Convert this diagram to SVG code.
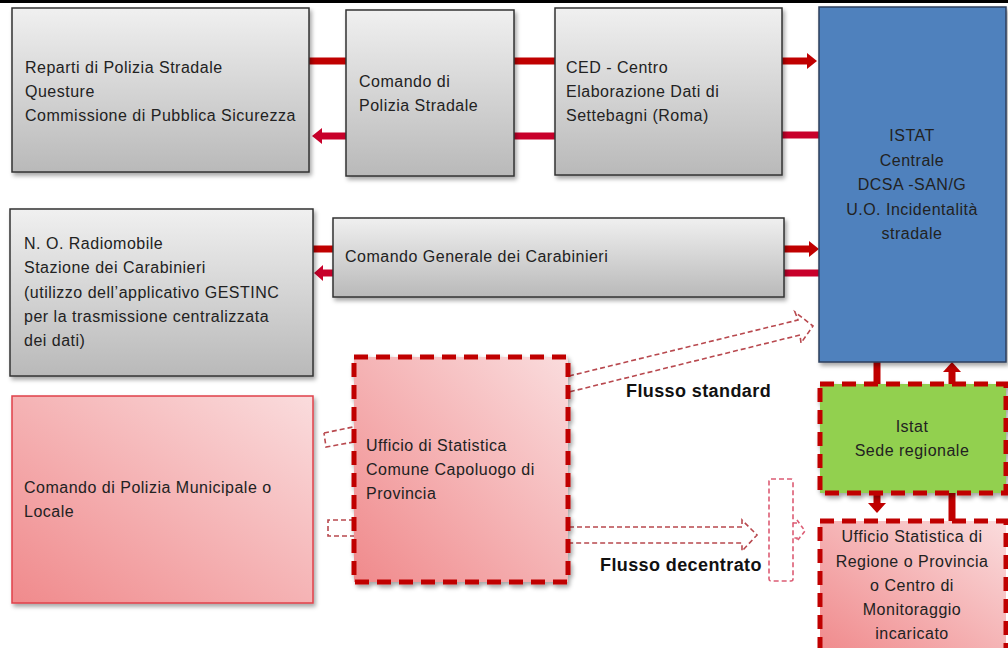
<svg xmlns="http://www.w3.org/2000/svg" width="1008" height="648" viewBox="0 0 1008 648">
<style>
.t{font-family:"Liberation Sans",Arial,sans-serif;font-size:16px;letter-spacing:0.5px;fill:#222}
.c{text-anchor:middle}
.b{font-family:"Liberation Sans",Arial,sans-serif;font-size:18px;font-weight:bold;letter-spacing:0.4px;fill:#111}
.gray{fill:url(#gGray);stroke:#333;stroke-width:1.5;filter:url(#sh)}
.pinkd{fill:url(#gPink);stroke:#C00000;stroke-width:5;stroke-dasharray:14 8}
.bar1{stroke:#C00000;stroke-width:7;fill:none}
.bar2{stroke:#C8002A;stroke-width:7;fill:none}
.h1{fill:#C00000}
.h2{fill:#C8002A}
.blk{fill:none;stroke:#B8484E;stroke-width:1.6;stroke-dasharray:5 3}
</style>
<defs>
<linearGradient id="gGray" x1="0" y1="0" x2="0" y2="1">
<stop offset="0" stop-color="#F0F0F0"/>
<stop offset="1" stop-color="#B9B9B9"/>
</linearGradient>
<linearGradient id="gPink" x1="1" y1="0" x2="0" y2="1">
<stop offset="0" stop-color="#FADCDD"/>
<stop offset="1" stop-color="#F08A8C"/>
</linearGradient>
<filter id="sh" x="-10%" y="-10%" width="130%" height="130%">
<feDropShadow dx="2" dy="3" stdDeviation="2" flood-color="#000" flood-opacity="0.35"/>
</filter>
</defs>
<rect x="0" y="0" width="1008" height="648" fill="#fff"/>
<rect x="0" y="0" width="1008" height="3" fill="#000"/>

<g id="connectors">
<line class="bar1" x1="309" y1="61" x2="346" y2="61"/>
<line class="bar2" x1="346" y1="136" x2="321" y2="136"/>
<polygon class="h2" points="322,128 312,136 322,144"/>
<line class="bar1" x1="514" y1="61" x2="555" y2="61"/>
<line class="bar2" x1="514" y1="136" x2="555" y2="136"/>
<line class="bar1" x1="782" y1="61" x2="808" y2="61"/>
<polygon class="h1" points="807,53 817,61 807,69"/>
<line class="bar2" x1="782" y1="135" x2="820" y2="135"/>
<line class="bar1" x1="313" y1="249" x2="333" y2="249"/>
<line class="bar2" x1="333" y1="273" x2="322" y2="273"/>
<polygon class="h2" points="323,265 314,273 323,281"/>
<line class="bar1" x1="784" y1="249" x2="810" y2="249"/>
<polygon class="h1" points="809,241 819,249 809,257"/>
<line class="bar2" x1="784" y1="273" x2="819" y2="273"/>
<line class="bar1" x1="877" y1="362" x2="877" y2="384"/>
<line class="bar1" x1="952" y1="371" x2="952" y2="384"/>
<polygon class="h1" points="943,372 952,362 961,372"/>
<line class="bar1" x1="877" y1="493" x2="877" y2="504"/>
<polygon class="h1" points="868,503 877,513 886,503"/>
<line class="bar1" x1="952" y1="493" x2="952" y2="521"/>
<path class="blk" d="M324,433 L353,427 M354,442 L326,447 L324,433"/>
<path class="blk" d="M354,520 L328,520 L328,536 L354,536"/>
<path class="blk" d="M569,376 L798,320 L795,312 L813,326 L801,343 L800,335 L569,392"/>
<path class="blk" d="M569,527 L742,527 L742,520 L757,535 L742,551 L742,543 L569,543"/>
<rect x="769" y="479" width="24" height="102" rx="2" fill="none" stroke="#DC5C74" stroke-width="1.6" stroke-dasharray="5 3"/>
<path d="M793,523 L797,523 L797,520 L805,531 L797,541 L797,538 L793,538" fill="none" stroke="#DC5C74" stroke-width="1.6" stroke-dasharray="4 3"/>
</g>

<g id="n_reparti">
<rect class="gray" x="12" y="8" width="297" height="164"/>
<text class="t" x="25" y="73">Reparti di Polizia Stradale</text>
<text class="t" x="25" y="97">Questure</text>
<text class="t" x="25" y="121">Commissione di Pubblica Sicurezza</text>
</g>
<g id="n_comando_ps">
<rect class="gray" x="346" y="10" width="168" height="166"/>
<text class="t" x="359" y="87">Comando di</text>
<text class="t" x="359" y="111">Polizia Stradale</text>
</g>
<g id="n_ced">
<rect class="gray" x="555" y="8" width="227" height="167"/>
<text class="t" x="566" y="73">CED - Centro</text>
<text class="t" x="566" y="97">Elaborazione Dati di</text>
<text class="t" x="566" y="121">Settebagni (Roma)</text>
</g>
<g id="n_istat">
<rect x="819" y="7" width="187" height="355" fill="#4F81BD" stroke="#2B3F5C" stroke-width="1.5" filter="url(#sh)"/>
<text class="t c" x="912" y="141">ISTAT</text>
<text class="t c" x="912" y="166">Centrale</text>
<text class="t c" x="912" y="190">DCSA -SAN/G</text>
<text class="t c" x="912" y="215">U.O. Incidentalità</text>
<text class="t c" x="912" y="239">stradale</text>
</g>
<g id="n_radiomobile">
<rect class="gray" x="10" y="209" width="303" height="167"/>
<text class="t" x="24" y="249">N. O. Radiomobile</text>
<text class="t" x="24" y="273">Stazione dei Carabinieri</text>
<text class="t" x="24" y="298">(utilizzo dell’applicativo GESTINC</text>
<text class="t" x="24" y="322">per la trasmissione centralizzata</text>
<text class="t" x="24" y="346">dei dati)</text>
</g>
<g id="n_carabinieri">
<rect class="gray" x="333" y="218" width="451" height="79"/>
<text class="t" x="345" y="262">Comando Generale dei Carabinieri</text>
</g>
<g id="n_municipale">
<rect x="12" y="396" width="301" height="207" fill="url(#gPink)" stroke="#E0404A" stroke-width="1.5" filter="url(#sh)"/>
<text class="t" x="24" y="493">Comando di Polizia Municipale o</text>
<text class="t" x="24" y="517">Locale</text>
</g>
<g id="n_ufficio_comune">
<rect class="pinkd" x="354" y="357" width="214" height="225" filter="url(#sh)"/>
<text class="t" x="366" y="451">Ufficio di Statistica</text>
<text class="t" x="366" y="475">Comune Capoluogo di</text>
<text class="t" x="366" y="499">Provincia</text>
</g>
<g id="n_istat_regionale">
<rect x="820" y="384" width="186" height="109" fill="#92D050" stroke="#C00000" stroke-width="5" stroke-dasharray="14 8" filter="url(#sh)"/>
<text class="t c" x="912" y="432">Istat</text>
<text class="t c" x="912" y="456">Sede regionale</text>
</g>
<g id="n_ufficio_regione">
<rect class="pinkd" x="820" y="521" width="186" height="132"/>
<text class="t c" x="912" y="542">Ufficio Statistica di</text>
<text class="t c" x="912" y="567">Regione o Provincia</text>
<text class="t c" x="912" y="591">o Centro di</text>
<text class="t c" x="912" y="615">Monitoraggio</text>
<text class="t c" x="912" y="639">incaricato</text>
</g>
<g id="labels">
<text class="b" x="626" y="397">Flusso standard</text>
<text class="b" x="600" y="571">Flusso decentrato</text>
</g>
</svg>
